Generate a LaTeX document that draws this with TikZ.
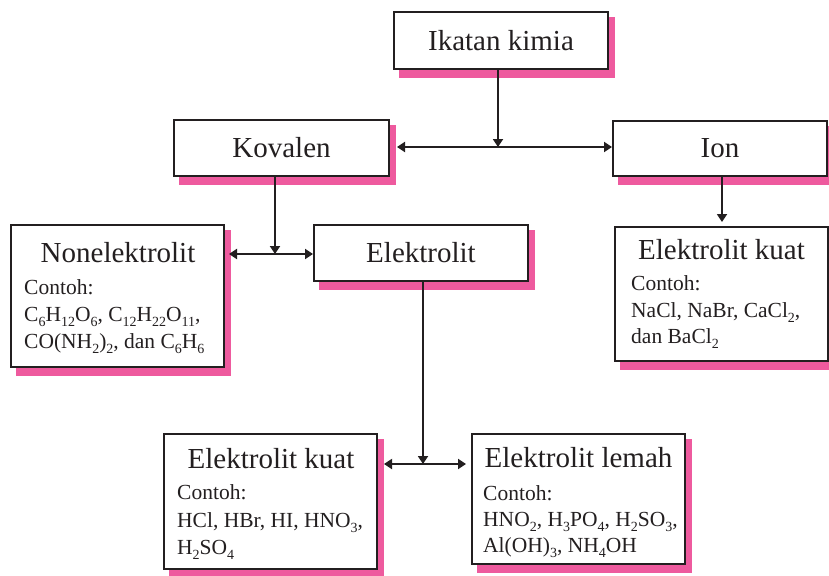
\documentclass[tikz,border=0pt]{standalone}
\usepackage{fontspec}
\setmainfont{Liberation Serif}
\usetikzlibrary{arrows.meta}
\definecolor{shadowpink}{RGB}{238,90,158}
\definecolor{ink}{RGB}{35,31,32}
\newcommand\chsub[1]{\raisebox{-5.5pt}{\fontsize{14}{14}\selectfont #1}}
\tikzset{
  box/.style={draw=ink, line width=2pt, fill=white, inner sep=0pt, text=ink, font=\fontsize{29}{34}\selectfont},
  shade/.style={fill=shadowpink},
  conn/.style={draw=ink, line width=1.8pt, -{Triangle[length=8pt,width=10pt]}},
  dconn/.style={draw=ink, line width=1.8pt, {Triangle[length=8pt,width=10pt]}-{Triangle[length=8pt,width=10pt]}},
  title/.style={anchor=base, inner sep=0pt, text=ink, font=\fontsize{29}{34}\selectfont},
  body/.style={anchor=base west, inner sep=0pt, text=ink, font=\fontsize{21.5}{27}\selectfont},
}
\begin{document}
\begin{tikzpicture}[x=1pt,y=-1pt]
\useasboundingbox (0,0) rectangle (829,575);
% shadows
\fill[shade] (399,17) rectangle (615,78);
\fill[shade] (179,125) rectangle (396,185);
\fill[shade] (618,126) rectangle (834,185);
\fill[shade] (16,230) rectangle (231,376);
\fill[shade] (319,230) rectangle (535,290);
\fill[shade] (620,232) rectangle (835,370);
\fill[shade] (169,439) rectangle (384,578);
\fill[shade] (477,439) rectangle (692,573);
% boxes
\node[box, minimum width=214pt, minimum height=57pt] (ikatan) at (501,40.5) {Ikatan kimia};
\node[box, minimum width=215pt, minimum height=56pt] (kovalen) at (281.5,148) {Kovalen};
\node[box, minimum width=214pt, minimum height=55pt] (ion) at (720,148.5) {Ion};
\node[box, minimum width=213pt, minimum height=142pt] (nonel) at (117.5,296) {};
\node[box, minimum width=214pt, minimum height=56pt] (elektro) at (421,253) {Elektrolit};
\node[box, minimum width=213pt, minimum height=134pt] (ekuatR) at (721.5,294) {};
\node[box, minimum width=213pt, minimum height=135pt] (ekuatB) at (270.5,501.5) {};
\node[box, minimum width=213pt, minimum height=130pt] (elemah) at (578.5,499) {};
% Nonelektrolit
\node[title] (nonelT) at (118,262) {Nonelektrolit};
\node[body] (nonelB1) at (24,294) {Contoh:};
\node[body] (nonelB2) at (24,321) {C\chsub{6}H\chsub{12}O\chsub{6}, C\chsub{12}H\chsub{22}O\chsub{11},};
\node[body] (nonelB3) at (24,348) {CO(NH\chsub{2})\chsub{2}, dan C\chsub{6}H\chsub{6}};
% Elektrolit kuat (Ion)
\node[title] (ekuatRT) at (721.5,259) {Elektrolit kuat};
\node[body] (ekuatRB1) at (631,290) {Contoh:};
\node[body] (ekuatRB2) at (631,317) {NaCl, NaBr, CaCl\chsub{2},};
\node[body] (ekuatRB3) at (631,343) {dan BaCl\chsub{2}};
% Elektrolit kuat (bottom)
\node[title] (ekuatBT) at (271,468) {Elektrolit kuat};
\node[body] (ekuatBB1) at (177,499) {Contoh:};
\node[body] (ekuatBB2) at (177,527) {HCl, HBr, HI, HNO\chsub{3},};
\node[body] (ekuatBB3) at (177,554) {H\chsub{2}SO\chsub{4}};
% Elektrolit lemah
\node[title] (elemahT) at (578.5,467) {Elektrolit lemah};
\node[body] (elemahB1) at (483,500) {Contoh:};
\node[body] (elemahB2) at (483,526) {HNO\chsub{2}, H\chsub{3}PO\chsub{4}, H\chsub{2}SO\chsub{3},};
\node[body] (elemahB3) at (483,552) {Al(OH)\chsub{3}, NH\chsub{4}OH};
% connector points
\coordinate (j1) at (498,147);
\coordinate (kovtip) at (397,147);
\coordinate (j2) at (275,254);
\coordinate (nontip) at (229,254);
\coordinate (iontip) at (722,222);
\coordinate (j3) at (423,464);
\coordinate (kuattip) at (384,464);
\coordinate (lemahtip) at (466,464);
% connectors
\draw[conn] (ikatan.south -| j1) -- (j1);
\draw[dconn] (kovtip) -- (ion.west |- j1);
\draw[conn] (kovalen.south -| j2) -- (j2);
\draw[dconn] (nontip) -- (elektro.west |- j2);
\draw[conn] (ion.south -| iontip) -- (iontip);
\draw[conn] (elektro.south -| j3) -- (j3);
\draw[dconn] (kuattip) -- (lemahtip);
\end{tikzpicture}
\end{document}
